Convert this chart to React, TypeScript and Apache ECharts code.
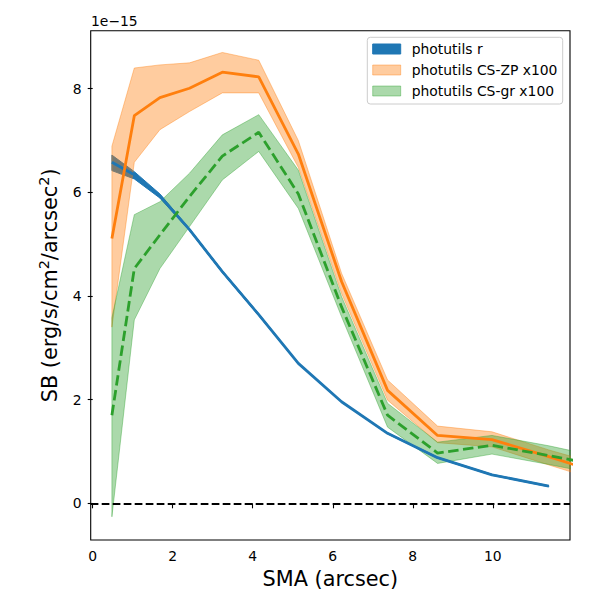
import React, { useEffect, useRef } from 'react';
import * as echarts from 'echarts';

// SMA (arcsec) sample radii
const smaR = [0.48, 1.04, 1.68, 2.42, 3.24, 4.15, 5.14, 6.22, 7.37, 8.62, 9.98, 11.4];
const smaCS = [0.48, 1.04, 1.68, 2.42, 3.24, 4.15, 5.14, 6.22, 7.37, 8.62, 9.98, 11.4, 12.9];

// surface brightness, units of 1e-15 erg/s/cm2/arcsec2
const sbR = [6.58, 6.34, 5.93, 5.28, 4.47, 3.64, 2.7, 1.96, 1.35, 0.88, 0.55, 0.33];
const sbRLo = [6.42, 6.26, 5.89, 5.26, 4.45, 3.62, 2.69, 1.95, 1.34, 0.87, 0.54, 0.32];
const sbRHi = [6.72, 6.4, 5.97, 5.3, 4.49, 3.66, 2.71, 1.97, 1.36, 0.89, 0.56, 0.34];

const sbZP = [5.11, 7.48, 7.83, 8.01, 8.32, 8.23, 6.74, 4.28, 2.18, 1.31, 1.23, 0.9, 0.53];
const sbZPLo = [3.4, 6.58, 7.21, 7.56, 7.92, 7.92, 6.48, 4.05, 1.99, 1.17, 1.09, 0.74, 0.38];
const sbZPHi = [6.89, 8.4, 8.46, 8.5, 8.7, 8.55, 7.0, 4.44, 2.38, 1.49, 1.38, 1.03, 0.7];

const sbGR = [1.7, 4.53, 5.18, 5.92, 6.7, 7.16, 5.97, 3.79, 1.7, 0.97, 1.12, 0.92, 0.7];
const sbGRLo = [-0.26, 3.54, 4.53, 5.34, 6.24, 6.79, 5.69, 3.6, 1.47, 0.77, 0.95, 0.75, 0.52];
const sbGRHi = [3.58, 5.57, 5.82, 6.37, 7.11, 7.5, 6.43, 3.99, 1.93, 1.18, 1.31, 1.11, 0.86];

const xTicks = [0, 2, 4, 6, 8, 10];
const yTicks = [0, 2, 4, 6, 8];
const legendNames = ['photutils r', 'photutils CS-ZP x100', 'photutils CS-gr x100'];

const FONT = 'DejaVu Sans';
const BLUE = '#1f77b4';
const ORANGE = '#ff7f0e';
const GREEN = '#2ca02c';
const ORANGE_A = 'rgba(255,127,14,0.4)';
const GREEN_A = 'rgba(44,160,44,0.4)';

const zip = (xs: number[], ys: number[]) => xs.map((x, i) => [x, ys[i]]);

// fill_between style band
const band = (name: string, xs: number[], lo: number[], hi: number[], fill: string) => ({
  type: 'custom',
  name,
  clip: true,
  silent: true,
  z: 1,
  data: [[xs[0], lo[0]]],
  renderItem: (_params: any, api: any) => {
    const upper = xs.map((x, i) => api.coord([x, hi[i]]));
    const lower = xs.map((x, i) => api.coord([x, lo[i]])).reverse();
    return {
      type: 'polygon',
      shape: { points: upper.concat(lower) },
      style: { fill, stroke: fill, lineWidth: 1 }
    };
  }
});

const App: React.FC = () => {
  const chartRef = useRef<HTMLDivElement>(null);

  useEffect(() => {
    if (!chartRef.current) return;
    const chart = echarts.init(chartRef.current, null, { renderer: 'svg' });

    const legendColors = [BLUE, ORANGE_A, GREEN_A];
    const legendY = [49, 70, 91];
    const legendItems: any[] = [];
    legendNames.forEach((n, i) => {
      legendItems.push({
        type: 'rect',
        shape: { x: 372.7, y: legendY[i] - 5, width: 28, height: 10 },
        style: { fill: legendColors[i], stroke: legendColors[i], lineWidth: 1 }
      });
      legendItems.push({
        type: 'text',
        x: 411.7,
        y: legendY[i],
        style: { text: n, font: `13.9px "${FONT}"`, fill: '#000', verticalAlign: 'middle', align: 'left' }
      });
    });

    const option: any = {
      animation: false,
      backgroundColor: '#fff',
      grid: {
        left: 90.7,
        top: 30.7,
        right: 30,
        bottom: 60,
        show: true,
        borderColor: '#000',
        borderWidth: 1.1,
        backgroundColor: 'transparent'
      },
      xAxis: {
        type: 'value',
        min: -0.05,
        max: 11.93,
        name: 'SMA (arcsec)',
        nameLocation: 'middle',
        nameGap: 28,
        nameTextStyle: { fontFamily: FONT, fontSize: 20.8, color: '#000' },
        axisLine: { show: false },
        axisTick: {
          show: true,
          length: 5,
          customValues: xTicks,
          lineStyle: { color: '#000', width: 1.1 }
        },
        axisLabel: {
          customValues: xTicks,
          margin: 9,
          fontFamily: FONT,
          fontSize: 13.9,
          color: '#000'
        },
        splitLine: { show: false }
      },
      yAxis: {
        type: 'value',
        min: -0.708,
        max: 9.12,
        name: '{m|SB (erg/s/cm}{s|2}{m|/arcsec}{s|2}{m|)}',
        nameLocation: 'middle',
        nameRotate: 90,
        nameGap: 28,
        nameTextStyle: {
          color: '#000',
          rich: {
            m: { fontFamily: FONT, fontSize: 20.8, lineHeight: 26, color: '#000' },
            s: { fontFamily: FONT, fontSize: 14.5, lineHeight: 14, verticalAlign: 'top', color: '#000' }
          }
        },
        axisLine: { show: false },
        axisTick: {
          show: true,
          length: 5,
          customValues: yTicks,
          lineStyle: { color: '#000', width: 1.1 }
        },
        axisLabel: {
          customValues: yTicks,
          margin: 9,
          fontFamily: FONT,
          fontSize: 13.9,
          color: '#000'
        },
        splitLine: { show: false }
      },
      graphic: [
        {
          type: 'text',
          left: 91,
          top: 14,
          style: { text: '1e\u221215', font: `13.9px "${FONT}"`, fill: '#000' }
        },
        {
          type: 'group',
          children: [
            {
              type: 'rect',
              shape: { x: 367.3, y: 37.3, width: 195.4, height: 66.7, r: 3 },
              style: { fill: 'rgba(255,255,255,0.8)', stroke: '#cccccc', lineWidth: 1 }
            },
            ...legendItems
          ]
        }
      ],
      series: [
        band(legendNames[0], smaR, sbRLo, sbRHi, BLUE),
        band(legendNames[1], smaCS, sbZPLo, sbZPHi, ORANGE_A),
        band(legendNames[2], smaCS, sbGRLo, sbGRHi, GREEN_A),
        {
          type: 'line',
          name: 'r',
          z: 2,
          data: zip(smaR, sbR),
          showSymbol: false,
          lineStyle: { color: BLUE, width: 2.8 },
          markLine: {
            silent: true,
            symbol: 'none',
            label: { show: false },
            lineStyle: { color: '#000', width: 2, type: [7.7, 3.3] },
            data: [{ yAxis: 0 }]
          }
        },
        {
          type: 'line',
          name: 'CS-ZP',
          z: 2,
          data: zip(smaCS, sbZP),
          showSymbol: false,
          lineStyle: { color: ORANGE, width: 2.8 }
        },
        {
          type: 'line',
          name: 'CS-gr',
          z: 2,
          data: zip(smaCS, sbGR),
          showSymbol: false,
          lineStyle: { color: GREEN, width: 2.8, type: [10.5, 4.5] }
        }
      ]
    };

    chart.setOption(option);
    return () => {
      chart.dispose();
    };
  }, []);

  return (
    <div
      ref={chartRef}
      style={{ position: 'absolute', left: 0, top: 0, width: 600, height: 600 }}
    />
  );
};

export default App;
